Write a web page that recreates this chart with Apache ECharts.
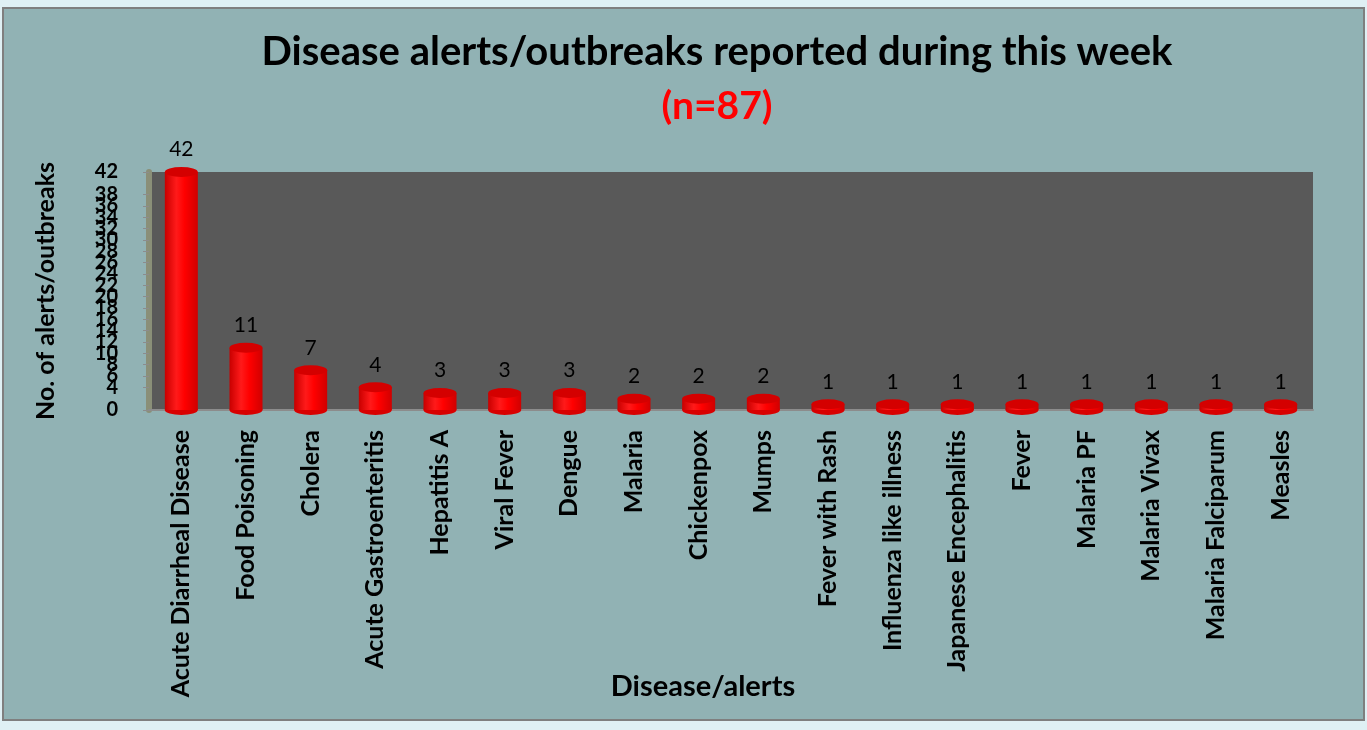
<!DOCTYPE html>
<html>
<head>
<meta charset="utf-8">
<script src="https://cdn.jsdelivr.net/npm/echarts@6/dist/echarts.min.js"></script>
<style>
  html, body { margin: 0; padding: 0; background: #dff0f4; }
  #box {
    position: absolute; left: 2px; top: 7px;
    width: 1359px; height: 710px;
    border: 2px solid #7f7f7f;
    background: #91b2b4;
  }
  #chart { width: 1359px; height: 710px; }
</style>
</head>
<body>
<div id="box"><div id="chart"></div></div>
<script>
  // disease categories and counts for the week
  var diseases = [
    'Acute Diarrheal Disease', 'Food Poisoning', 'Cholera', 'Acute Gastroenteritis',
    'Hepatitis A', 'Viral Fever', 'Dengue', 'Malaria', 'Chickenpox', 'Mumps',
    'Fever with Rash', 'Influenza like illness', 'Japanese Encephalitis', 'Fever',
    'Malaria PF', 'Malaria Vivax', 'Malaria Falciparum', 'Measles'
  ];
  var alerts = [42, 11, 7, 4, 3, 3, 3, 2, 2, 2, 1, 1, 1, 1, 1, 1, 1, 1];

  var font = 'Lato, "Open Sans", sans-serif';
  var barW = 33;

  var cylinder = new echarts.graphic.LinearGradient(0, 0, 1, 0, [
    { offset: 0, color: '#c80000' },
    { offset: 0.35, color: '#ff1a1a' },
    { offset: 0.6, color: '#ff0000' },
    { offset: 1, color: '#d00000' }
  ]);

  var chart = echarts.init(document.getElementById('chart'));
  chart.setOption({
    animation: false,
    title: [{
      text: 'Disease alerts/outbreaks reported during this week',
      left: 708, top: 18, textAlign: 'center',
      textStyle: { fontFamily: font, fontSize: 40, fontWeight: 'bold', color: '#000' }
    }, {
      text: '(n=87)',
      left: 708, top: 73, textAlign: 'center',
      textStyle: { fontFamily: font, fontSize: 39, fontWeight: 'bold', color: '#ff0000' }
    }],
    grid: {
      left: 145, right: 50, top: 163, bottom: 309,
      outerBoundsMode: 'none',
      show: true, backgroundColor: '#595959', borderWidth: 0
    },
    xAxis: {
      type: 'category',
      data: diseases,
      name: 'Disease/alerts',
      nameLocation: 'middle',
      nameGap: 262,
      nameMoveOverlap: false,
      nameTextStyle: { fontFamily: font, fontSize: 29, fontWeight: 'bold', color: '#000', padding: [0, 56, 0, 0] },
      axisLine: { lineStyle: { color: '#8c8c8c', width: 2 } },
      axisTick: { show: false },
      axisLabel: {
        interval: 0, rotate: 90, margin: 20,
        fontFamily: font, fontSize: 25, fontWeight: 'bold', color: '#000'
      }
    },
    yAxis: {
      type: 'value',
      min: 0, max: 42, interval: 2,
      name: 'No. of alerts/outbreaks',
      nameLocation: 'middle',
      nameGap: 91,
      nameMoveOverlap: false,
      nameTextStyle: { fontFamily: font, fontSize: 25, fontWeight: 'bold', color: '#000' },
      axisLine: { show: true, lineStyle: { color: '#8a8f78', width: 6 } },
      axisTick: { show: true, length: 6, lineStyle: { color: '#8c8c8c' } },
      axisLabel: {
        margin: 31, hideOverlap: false, showMinLabel: true, showMaxLabel: true,
        fontFamily: font, fontSize: 20, fontWeight: 'bold', color: '#000'
      },
      splitLine: { show: false }
    },
    series: [{
      type: 'bar',
      data: alerts,
      barWidth: barW,
      itemStyle: { color: cylinder },
      label: {
        show: true, position: 'top', distance: 12,
        fontFamily: font, fontSize: 21, color: '#000'
      },
      z: 2
    }, {
      // bottom rim of each cylinder
      type: 'pictorialBar',
      data: alerts,
      symbol: 'circle',
      symbolSize: [barW, 10],
      symbolOffset: [0, '50%'],
      symbolPosition: 'start',
      itemStyle: { color: '#d80000' },
      z: 1
    }, {
      // top cap of each cylinder
      type: 'pictorialBar',
      data: alerts,
      symbol: 'circle',
      symbolSize: [barW, 10],
      symbolOffset: [0, '-50%'],
      symbolPosition: 'end',
      itemStyle: { color: '#d40000' },
      z: 3
    }]
  });
</script>
</body>
</html>
